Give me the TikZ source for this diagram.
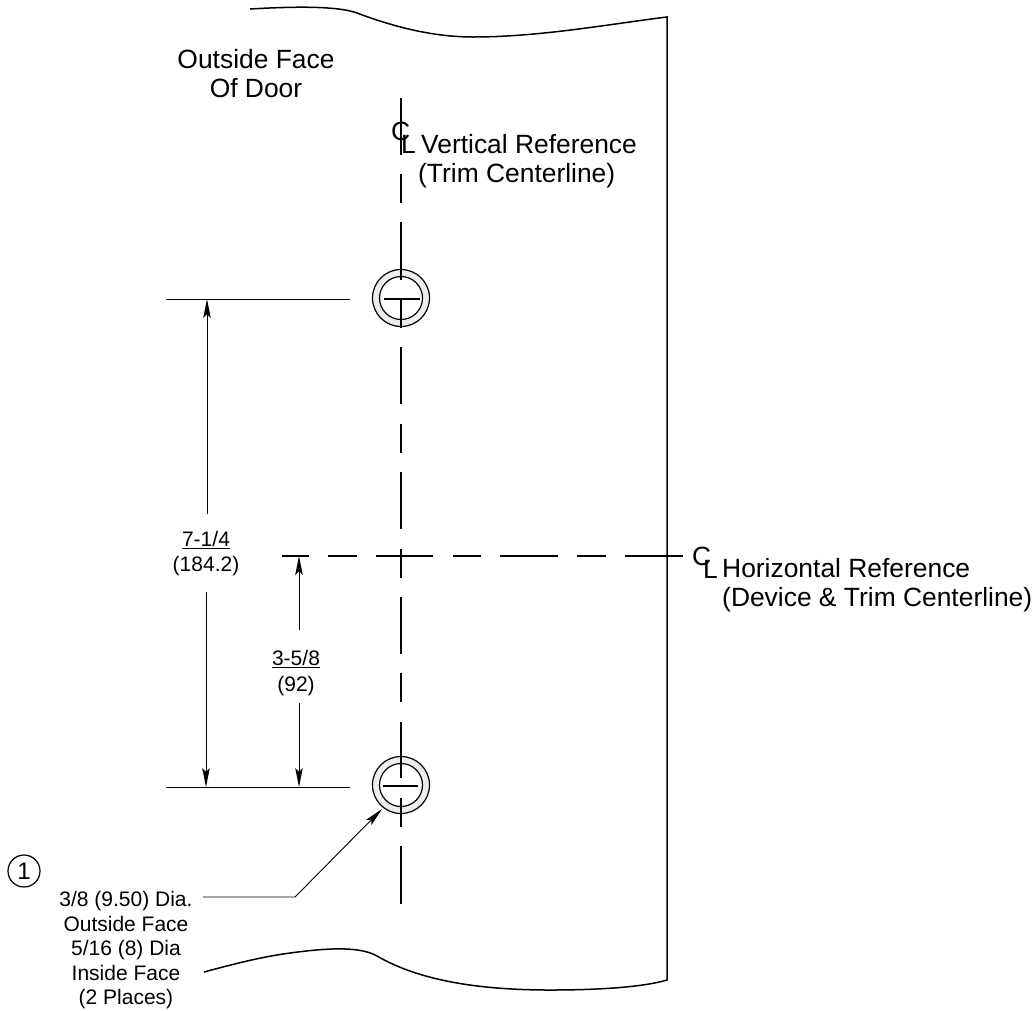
\documentclass[tikz,border=0pt]{standalone}
\usepackage{fontspec}
\setmainfont{Liberation Sans}
\usetikzlibrary{arrows.meta}
\newcommand{\fs}[2]{\fontsize{#1}{#2}\selectfont}
\tikzset{
  outline/.style={line width=1.5pt},
  center line/.style={line width=1.5pt},
  thin line/.style={line width=0.9pt},
  dim arrow/.style={thin line,-{Stealth[length=19pt,width=7.5pt,inset=4pt]}},
  big label/.style={font=\fs{26.4}{29},inner sep=0pt},
  small label/.style={font=\fs{21}{24.5},inner sep=0pt,align=center},
  dim label/.style={font=\fs{21}{25.5},inner sep=0pt,align=center},
  ring/.style={draw,line width=1.2pt,fill=black!7},
  hole/.style={draw,line width=1.2pt,fill=white},
}
\begin{document}
\begin{tikzpicture}[x=1pt,y=-1pt]
\useasboundingbox (0,0) rectangle (1032,1010);
% door edges
\draw[outline] (250,9) .. controls (285,7) and (335,5) .. (357,13)
  .. controls (381,22) and (425,37) .. (473,37)
  .. controls (540,37) and (610,24) .. (667,17)
  -- (667,980)
  .. controls (640,988) and (590,990) .. (550,990)
  .. controls (470,990) and (415,978) .. (377,956)
  .. controls (358,945) and (320,949) .. (290,953)
  .. controls (260,957) and (230,965) .. (204,972);
% holes
\coordinate (holeA) at (401,298);
\coordinate (holeB) at (401,785);
\filldraw[ring] (holeA) circle (28.5);
\draw[hole] (holeA) circle (21.5);
\filldraw[ring] (holeB) circle (28.5);
\draw[hole] (holeB) circle (21.5);
\draw[center line] (384,299) -- (420,299);
\draw[center line] (383,786) -- (418,786);
% vertical centre line
\foreach \a/\b in {98/155,174/203,222/280,299/328,347/404,424/453,472/529,549/578,597/654,673/702,722/778,798/827,846/904}
  \draw[center line] (401,\a) -- (401,\b);
% horizontal centre line
\foreach \a/\b in {282/309,328/357,376/433,453/481,500/558,577/606,625/683}
  \draw[center line] (\a,556) -- (\b,556);
% extension lines
\coordinate (extTopL) at (166,299);
\coordinate (extTopR) at (350,299);
\coordinate (extBotL) at (166,787);
\coordinate (extBotR) at (350,787);
\draw[thin line] (extTopL) -- (extTopR);
\draw[thin line] (extBotL) -- (extBotR);
% dimensions
\coordinate (dimAtop) at (207,299);
\coordinate (dimAu) at (207,514);
\coordinate (dimAl) at (206,592);
\coordinate (dimAbot) at (206,787);
\coordinate (dimBtop) at (299,556);
\coordinate (dimBu) at (299,630);
\coordinate (dimBl) at (299,703);
\coordinate (dimBbot) at (299,787);
\draw[dim arrow] (dimAu) -- (dimAtop);
\draw[dim arrow] (dimAl) -- (dimAbot);
\draw[dim arrow] (dimBu) -- (dimBtop);
\draw[dim arrow] (dimBl) -- (dimBbot);
\node[dim label] (dimAtext) at (206,553.5) {\underline{7-1/4}\\(184.2)};
\node[dim label] (dimBtext) at (296,673) {\underline{3-5/8}\\(92)};
% labels
\node[big label,align=center] (faceLabel) at (256,73.5) {Outside Face\\Of Door};
\node[big label,anchor=base west] (vref1) at (421,153) {Vertical Reference};
\node[big label,anchor=base west] (vref2) at (418,182) {(Trim Centerline)};
\node[big label,anchor=base west] (hrefA) at (722,577) {Horizontal Reference};
\node[big label,anchor=base west] (hrefB) at (722,606) {(Device \& Trim Centerline)};
\node[big label,anchor=base west] (clC1) at (391,140) {C};
\node[big label,anchor=base west] (clL1) at (401,153) {L};
\node[big label,anchor=base west] (clC2) at (692,565) {C};
\node[big label,anchor=base west] (clL2) at (703,578) {L};
% note
\node[draw,circle,line width=1.2pt,minimum size=32pt,inner sep=0pt,font=\fs{24}{24}] (noteNum) at (24,871) {1};
\node[small label] (noteText) at (126,950.5) {3/8 (9.50) Dia.\\Outside Face\\5/16 (8) Dia\\Inside Face\\(2 Places)};
\coordinate (leadStart) at (203,897);
\coordinate (leadBend) at (295,897);
\coordinate (leadTip) at (382,809);
\draw[dim arrow] (leadStart) -- (leadBend) -- (leadTip);
\end{tikzpicture}
\end{document}
